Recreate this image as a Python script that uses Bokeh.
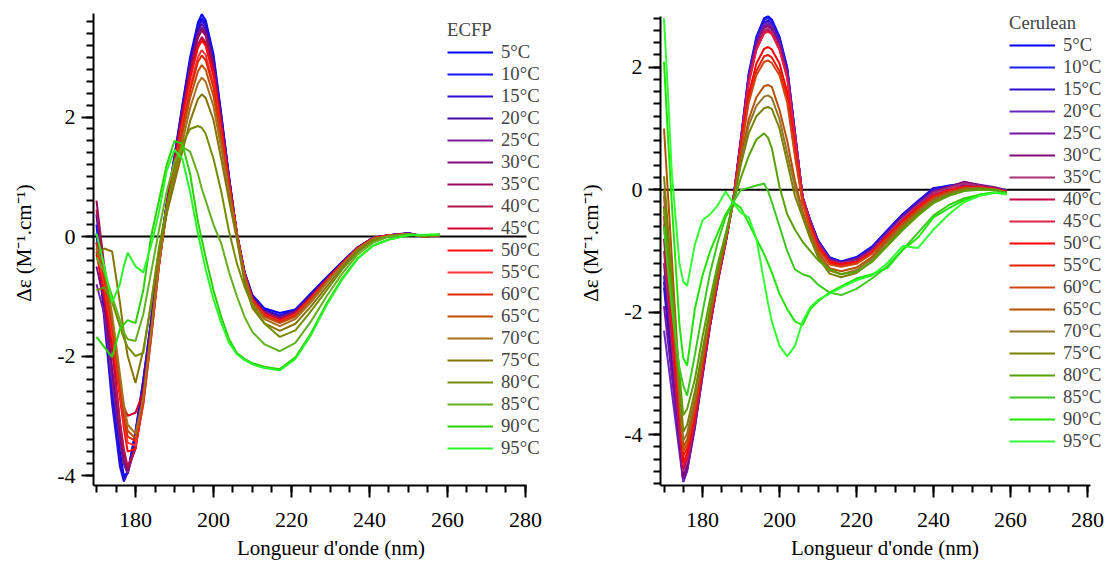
from bokeh.plotting import figure
from bokeh.models import Legend, LegendItem, SingleIntervalTicker, Range1d
from bokeh.layouts import row
from bokeh.embed import file_html
from bokeh.resources import INLINE

TEMPS = [5, 10, 15, 20, 25, 30, 35, 40, 45, 50, 55, 60, 65, 70, 75, 80, 85, 90, 95]
LABELS = [f"{t}°C" for t in TEMPS]
X_LABEL = "Longueur d'onde (nm)"
Y_LABEL = "Δε (M⁻¹.cm⁻¹)"

# ---------------- ECFP ----------------
WL_ECFP = [170, 172, 174, 176, 177, 178, 180, 182, 184, 186, 188, 190, 192, 194, 196, 197, 198,
           200, 202, 204, 206, 208, 210, 213, 217, 221, 225, 229, 233, 237, 241, 245, 250, 254, 258]

ECFP_5 = [0.37, -0.9, -2.4, -3.6, -4.0, -3.95, -3.3, -2.4, -1.4, -0.35,
          0.55, 1.35, 2.2, 3.0, 3.58, 3.72, 3.62, 3.05, 2.05, 1.0, 0.05,
          -0.6, -0.98, -1.2, -1.28, -1.22, -0.95, -0.68, -0.42, -0.18, -0.02, 0.02, 0.06, 0.0, 0.03]
ECFP_10 = [0.2, -1.2, -2.6, -3.75, -4.05, -3.95, -3.3, -2.45, -1.45, -0.35,
           0.54, 1.33, 2.16, 2.95, 3.52, 3.66, 3.56, 3.0, 2.02, 0.98, 0.05,
           -0.61, -1.0, -1.22, -1.32, -1.22, -0.97, -0.69, -0.43, -0.18, -0.02, 0.02, 0.05, 0.0, 0.03]
ECFP_15 = [0.05, -1.4, -2.8, -3.85, -4.1, -3.95, -3.25, -2.4, -1.4, -0.35,
           0.54, 1.31, 2.14, 2.92, 3.48, 3.62, 3.52, 2.97, 1.99, 0.97, 0.05,
           -0.61, -1.0, -1.23, -1.33, -1.23, -0.97, -0.7, -0.43, -0.18, -0.02, 0.02, 0.05, 0.0, 0.03]
ECFP_20 = [-0.1, -1.0, -2.3, -3.4, -3.8, -3.97, -3.45, -2.55, -1.5, -0.4,
           0.53, 1.29, 2.11, 2.87, 3.43, 3.56, 3.46, 2.92, 1.96, 0.96, 0.05,
           -0.62, -1.02, -1.25, -1.35, -1.25, -0.99, -0.71, -0.44, -0.19, -0.02, 0.02, 0.05, 0.0, 0.03]
ECFP_25 = [-0.8, -1.3, -2.4, -3.4, -3.8, -3.95, -3.5, -2.6, -1.55, -0.42,
           0.52, 1.27, 2.07, 2.82, 3.37, 3.5, 3.41, 2.87, 1.93, 0.94, 0.04,
           -0.63, -1.03, -1.26, -1.36, -1.26, -1.0, -0.72, -0.44, -0.19, -0.02, 0.02, 0.05, 0.0, 0.02]
ECFP_30 = [-0.5, -1.1, -2.2, -3.3, -3.75, -3.92, -3.5, -2.6, -1.55, -0.42,
           0.51, 1.26, 2.06, 2.81, 3.35, 3.48, 3.39, 2.85, 1.92, 0.94, 0.04,
           -0.63, -1.03, -1.27, -1.37, -1.27, -1.0, -0.72, -0.44, -0.19, -0.02, 0.02, 0.05, 0.0, 0.02]
ECFP_35 = [0.6, -0.5, -1.8, -3.1, -3.6, -3.9, -3.55, -2.65, -1.6, -0.45,
           0.51, 1.25, 2.04, 2.78, 3.32, 3.45, 3.36, 2.83, 1.9, 0.93, 0.04,
           -0.64, -1.04, -1.28, -1.38, -1.28, -1.01, -0.72, -0.45, -0.19, -0.02, 0.02, 0.05, 0.0, 0.02]
ECFP_40 = [0.45, -0.6, -1.9, -3.1, -3.55, -3.85, -3.55, -2.65, -1.6, -0.45,
           0.49, 1.21, 1.98, 2.69, 3.21, 3.34, 3.25, 2.74, 1.84, 0.9, 0.04,
           -0.64, -1.05, -1.28, -1.39, -1.28, -1.02, -0.73, -0.45, -0.19, -0.03, 0.02, 0.04, 0.0, 0.02]
ECFP_45 = [-0.25, -1.0, -1.9, -2.6, -2.85, -3.0, -2.95, -2.6, -1.6, -0.45,
           0.49, 1.2, 1.95, 2.66, 3.18, 3.3, 3.21, 2.71, 1.82, 0.89, 0.04,
           -0.65, -1.06, -1.29, -1.4, -1.29, -1.02, -0.73, -0.45, -0.19, -0.03, 0.02, 0.04, 0.0, 0.02]
ECFP_50 = [-0.3, -0.9, -1.7, -2.7, -3.2, -3.6, -3.55, -2.8, -1.7, -0.5,
           0.49, 1.19, 1.94, 2.65, 3.16, 3.28, 3.19, 2.69, 1.81, 0.88, 0.04,
           -0.65, -1.06, -1.3, -1.41, -1.3, -1.03, -0.74, -0.46, -0.2, -0.03, 0.02, 0.04, 0.0, 0.02]
ECFP_55 = [-0.2, -0.8, -1.6, -2.6, -3.1, -3.45, -3.5, -2.8, -1.7, -0.5,
           0.46, 1.13, 1.85, 2.52, 3.0, 3.12, 3.04, 2.56, 1.72, 0.84, 0.04,
           -0.66, -1.07, -1.31, -1.42, -1.31, -1.04, -0.74, -0.46, -0.2, -0.03, 0.02, 0.04, 0.0, 0.02]
ECFP_60 = [-0.1, -0.7, -1.5, -2.5, -3.0, -3.35, -3.42, -2.75, -1.65, -0.5,
           0.45, 1.1, 1.79, 2.44, 2.92, 3.03, 2.95, 2.49, 1.67, 0.82, 0.04,
           -0.66, -1.08, -1.32, -1.43, -1.32, -1.05, -0.75, -0.46, -0.2, -0.03, 0.01, 0.04, 0.0, 0.02]
ECFP_65 = [-0.15, -0.6, -1.4, -2.4, -2.9, -3.25, -3.38, -2.7, -1.62, -0.48,
           0.42, 1.04, 1.7, 2.32, 2.76, 2.87, 2.79, 2.35, 1.58, 0.77, 0.04,
           -0.67, -1.09, -1.34, -1.45, -1.34, -1.06, -0.76, -0.47, -0.2, -0.03, 0.01, 0.04, 0.0, 0.02]
ECFP_70 = [-0.2, -0.5, -1.3, -2.3, -2.8, -3.15, -3.3, -2.7, -1.6, -0.45,
           0.39, 0.97, 1.57, 2.15, 2.56, 2.66, 2.59, 2.18, 1.47, 0.72, 0.0,
           -0.7, -1.13, -1.38, -1.5, -1.38, -1.1, -0.78, -0.48, -0.21, -0.04, 0.01, 0.04, 0.0, 0.02]
ECFP_75 = [-0.3, -0.2, -0.25, -1.1, -1.6, -2.0, -2.45, -1.9, -1.15, -0.25,
           0.38, 0.9, 1.42, 1.93, 2.3, 2.38, 2.32, 1.95, 1.29, 0.6, -0.05,
           -0.78, -1.2, -1.45, -1.58, -1.46, -1.17, -0.84, -0.52, -0.24, -0.06, 0.0, 0.04, 0.0, 0.02]
ECFP_80 = [-0.9, -0.85, -1.1, -1.5, -1.7, -1.85, -2.0, -1.95, -1.1, -0.2,
           0.5, 1.1, 1.55, 1.8, 1.85, 1.82, 1.72, 1.3, 0.75, 0.08, -0.45,
           -0.85, -1.15, -1.45, -1.68, -1.57, -1.25, -0.9, -0.55, -0.26, -0.07, 0.01, 0.04, 0.01, 0.03]
ECFP_85 = [-0.35, -0.6, -1.0, -1.4, -1.6, -1.72, -1.75, -1.3, -0.6, 0.1,
           0.75, 1.25, 1.5, 1.42, 1.05, 0.8, 0.6, 0.2, -0.12, -0.6, -1.0,
           -1.35, -1.6, -1.8, -1.92, -1.78, -1.42, -1.0, -0.62, -0.3, -0.1, 0.0, 0.04, 0.02, 0.03]
ECFP_90 = [-1.68, -1.85, -2.02, -1.55, -1.47, -1.4, -1.45, -0.9, 0.0, 0.6,
           1.2, 1.6, 1.55, 1.05, 0.25, -0.05, -0.35, -0.9, -1.35, -1.72, -1.95,
           -2.05, -2.12, -2.18, -2.22, -2.02, -1.62, -1.12, -0.7, -0.36, -0.15, -0.05, 0.02, 0.02, 0.03]
ECFP_95 = [0.05, -0.5, -1.1, -0.8, -0.5, -0.27, -0.5, -0.6, -0.15, 0.4,
           1.1, 1.45, 1.3, 0.75, 0.05, -0.25, -0.55, -1.05, -1.45, -1.78, -1.97,
           -2.07, -2.14, -2.2, -2.24, -2.05, -1.65, -1.15, -0.72, -0.37, -0.15, -0.05, 0.02, 0.03, 0.04]

ECFP_SERIES = [ECFP_5, ECFP_10, ECFP_15, ECFP_20, ECFP_25, ECFP_30, ECFP_35, ECFP_40, ECFP_45,
               ECFP_50, ECFP_55, ECFP_60, ECFP_65, ECFP_70, ECFP_75, ECFP_80, ECFP_85, ECFP_90, ECFP_95]
ECFP_COLORS = ["#0000ff", "#1515f5", "#2a0fd5", "#4a0aa5", "#7a1e9e", "#7d0a7a", "#960a5a",
               "#b4144e", "#d2002d", "#ff0a0a", "#ff3535", "#dc2800", "#c04d00", "#a8701e",
               "#857500", "#748c00", "#64b020", "#2ad200", "#2af52a"]

# ---------------- Cerulean ----------------
WL_CER = [170, 171, 172, 174, 175, 176, 178, 180, 182, 184, 186, 188, 190, 192, 194, 196, 197, 198,
          200, 202, 204, 206, 208, 210, 213, 216, 220, 224, 228, 232, 236, 240, 244, 248, 252, 256, 259]

CER_5 = [-1.5, -2.14, -2.79, -4.08, -4.72, -4.5, -3.8, -2.95, -2.15, -1.45, -0.85, -0.15,
         0.85, 1.9, 2.5, 2.8, 2.83, 2.78, 2.5, 2.0, 0.95, -0.12,
         -0.5, -0.82, -1.1, -1.17, -1.1, -0.93, -0.66, -0.4, -0.18, 0.02, 0.07, 0.1, 0.06, 0.03, -0.02]
CER_10 = [-1.4, -2.07, -2.74, -4.08, -4.75, -4.55, -3.82, -2.97, -2.17, -1.47, -0.86, -0.15,
          0.84, 1.88, 2.47, 2.77, 2.8, 2.75, 2.47, 1.98, 0.94, -0.12,
          -0.5, -0.83, -1.11, -1.18, -1.12, -0.95, -0.68, -0.42, -0.2, 0.0, 0.06, 0.09, 0.05, 0.02, -0.02]
CER_15 = [-1.6, -2.23, -2.87, -4.14, -4.77, -4.58, -3.85, -3.0, -2.2, -1.48, -0.86, -0.16,
          0.83, 1.85, 2.44, 2.73, 2.76, 2.71, 2.44, 1.95, 0.93, -0.12,
          -0.51, -0.84, -1.12, -1.18, -1.11, -0.94, -0.67, -0.4, -0.19, 0.03, 0.05, 0.08, 0.05, 0.02, -0.03]
CER_20 = [-2.3, -2.79, -3.29, -4.28, -4.77, -4.6, -3.9, -3.05, -2.22, -1.5, -0.88, -0.17,
          0.82, 1.83, 2.41, 2.7, 2.73, 2.68, 2.41, 1.93, 0.92, -0.12,
          -0.52, -0.85, -1.13, -1.19, -1.13, -0.97, -0.7, -0.44, -0.22, -0.02, 0.04, 0.1, 0.07, 0.03, -0.02]
CER_25 = [-1.9, -2.47, -3.03, -4.16, -4.73, -4.56, -3.88, -3.03, -2.2, -1.49, -0.87, -0.16,
          0.81, 1.81, 2.39, 2.67, 2.7, 2.65, 2.39, 1.91, 0.91, -0.12,
          -0.52, -0.86, -1.14, -1.2, -1.14, -0.98, -0.71, -0.45, -0.23, -0.03, 0.05, 0.12, 0.08, 0.04, -0.01]
CER_30 = [-1.2, -1.9, -2.6, -4.0, -4.7, -4.52, -3.85, -3.02, -2.2, -1.48, -0.86, -0.17,
          0.8, 1.79, 2.36, 2.64, 2.67, 2.62, 2.36, 1.89, 0.9, -0.12,
          -0.53, -0.87, -1.15, -1.2, -1.15, -0.99, -0.72, -0.46, -0.24, -0.04, 0.04, 0.13, 0.07, 0.03, -0.02]
CER_35 = [-1.0, -1.72, -2.44, -3.88, -4.6, -4.43, -3.8, -2.98, -2.18, -1.47, -0.86, -0.17,
          0.79, 1.77, 2.32, 2.6, 2.63, 2.58, 2.32, 1.86, 0.88, -0.13,
          -0.54, -0.88, -1.16, -1.21, -1.16, -1.0, -0.73, -0.47, -0.25, -0.05, 0.03, 0.1, 0.06, 0.02, -0.03]
CER_40 = [-0.8, -1.55, -2.3, -3.8, -4.55, -4.38, -3.75, -2.95, -2.16, -1.46, -0.85, -0.18,
          0.78, 1.75, 2.3, 2.57, 2.6, 2.55, 2.3, 1.84, 0.87, -0.13,
          -0.55, -0.89, -1.17, -1.22, -1.17, -1.01, -0.75, -0.5, -0.27, -0.08, 0.0, 0.06, 0.05, 0.02, -0.03]
CER_45 = [-0.57, -1.36, -2.14, -3.71, -4.5, -4.34, -3.72, -2.92, -2.14, -1.45, -0.85, -0.18,
          0.78, 1.73, 2.28, 2.55, 2.58, 2.54, 2.28, 1.82, 0.86, -0.13,
          -0.56, -0.9, -1.17, -1.22, -1.18, -1.02, -0.76, -0.5, -0.28, -0.1, 0.0, 0.05, 0.04, 0.01, -0.04]
CER_50 = [-0.43, -1.23, -2.04, -3.65, -4.45, -4.3, -3.7, -2.9, -2.12, -1.44, -0.84, -0.18,
          0.7, 1.56, 2.06, 2.3, 2.33, 2.29, 2.06, 1.6, 0.65, -0.2,
          -0.6, -0.93, -1.18, -1.22, -1.18, -1.03, -0.77, -0.52, -0.3, -0.12, -0.02, 0.04, 0.03, 0.01, -0.04]
CER_55 = [-0.27, -1.09, -1.9, -3.53, -4.35, -4.22, -3.65, -2.86, -2.1, -1.42, -0.83, -0.18,
          0.66, 1.48, 1.94, 2.18, 2.2, 2.16, 1.94, 1.5, 0.6, -0.2,
          -0.62, -0.95, -1.2, -1.24, -1.2, -1.04, -0.78, -0.53, -0.31, -0.12, -0.02, 0.04, 0.03, 0.0, -0.04]
CER_60 = [-0.1, -0.93, -1.77, -3.44, -4.27, -4.15, -3.58, -2.82, -2.07, -1.4, -0.82, -0.19,
          0.63, 1.42, 1.87, 2.09, 2.11, 2.07, 1.87, 1.42, 0.55, -0.22,
          -0.64, -0.97, -1.22, -1.26, -1.21, -1.05, -0.8, -0.55, -0.33, -0.14, -0.04, 0.02, 0.03, 0.0, -0.05]
CER_65 = [1.0, -0.04, -1.08, -3.16, -4.2, -4.08, -3.5, -2.78, -2.05, -1.38, -0.81, -0.19,
          0.52, 1.15, 1.51, 1.69, 1.71, 1.68, 1.3, 0.8, 0.15, -0.35,
          -0.72, -1.02, -1.28, -1.33, -1.27, -1.1, -0.83, -0.57, -0.35, -0.16, -0.05, 0.02, 0.03, 0.01, -0.04]
CER_70 = [0.0, -0.82, -1.64, -3.28, -4.1, -3.98, -3.42, -2.72, -2.0, -1.35, -0.8, -0.2,
          0.47, 1.05, 1.37, 1.52, 1.54, 1.5, 1.15, 0.6, 0.05, -0.4,
          -0.76, -1.06, -1.32, -1.38, -1.31, -1.13, -0.86, -0.6, -0.37, -0.17, -0.06, 0.01, 0.02, 0.0, -0.05]
CER_75 = [0.22, -0.61, -1.45, -3.12, -3.95, -3.84, -3.3, -2.62, -1.93, -1.3, -0.77, -0.2,
          0.42, 0.92, 1.2, 1.33, 1.35, 1.32, 1.0, 0.45, -0.1, -0.45,
          -0.8, -1.1, -1.37, -1.43, -1.36, -1.17, -0.9, -0.63, -0.4, -0.2, -0.08, 0.0, 0.02, 0.0, -0.05]
CER_80 = [-0.3, -0.98, -1.65, -3.0, -3.68, -3.58, -3.1, -2.4, -1.78, -1.2, -0.72, -0.2,
          0.2, 0.55, 0.82, 0.92, 0.85, 0.68, 0.05, -0.4, -0.65, -0.85,
          -1.0, -1.15, -1.3, -1.38, -1.34, -1.18, -0.92, -0.66, -0.42, -0.22, -0.1, -0.02, 0.0, -0.01, -0.05]
CER_85 = [-0.6, -1.3, -1.9, -2.9, -3.2, -3.36, -2.7, -2.0, -1.35, -0.85, -0.45, -0.2,
          0.0, 0.03, 0.07, 0.1, -0.02, -0.2, -0.6, -1.0, -1.3, -1.38,
          -1.42, -1.55, -1.68, -1.72, -1.62, -1.45, -1.25, -0.98, -0.7, -0.42, -0.25, -0.14, -0.08, -0.04, -0.06]
CER_90 = [2.09, 0.9, -0.2, -2.2, -2.75, -2.87, -1.95, -1.4, -1.0, -0.7, -0.4, -0.2,
          -0.3, -0.55, -0.8, -1.05, -1.2, -1.35, -1.7, -1.95, -2.15, -2.21,
          -1.95, -1.82, -1.68, -1.58, -1.45, -1.38, -1.28, -0.98, -0.78, -0.45, -0.3, -0.17, -0.08, -0.05, -0.06]
CER_95 = [2.8, 1.6, 0.3, -1.2, -1.5, -1.57, -0.9, -0.5, -0.4, -0.25, -0.03, -0.22,
          -0.38, -0.45, -0.8, -1.5, -1.85, -2.15, -2.55, -2.72, -2.55, -2.15,
          -1.92, -1.8, -1.7, -1.6, -1.48, -1.4, -1.2, -0.92, -0.95, -0.65, -0.4, -0.2, -0.1, -0.05, -0.08]

CER_SERIES = [CER_5, CER_10, CER_15, CER_20, CER_25, CER_30, CER_35, CER_40, CER_45,
              CER_50, CER_55, CER_60, CER_65, CER_70, CER_75, CER_80, CER_85, CER_90, CER_95]
CER_COLORS = ["#0000ff", "#1e1eff", "#2d0fd2", "#6428c0", "#7814a5", "#820a78", "#aa3278",
              "#c80046", "#e61e46", "#ff0000", "#e61e00", "#d24614", "#b45000", "#967328",
              "#788200", "#5aa000", "#3cc81e", "#1ee600", "#32ff32"]

FONT = "Liberation Serif"
Y_OVERRIDES = {-4: "-4", -2: "-2", 0: "0", 2: "2"}
FIG_H = 562


def build(name, wl, series, colors, x_bounds, x_end, y_bounds, y_end, width, b_left,
          leg_xy, leg_font):
    p = figure(width=width, height=FIG_H, x_range=Range1d(x_bounds[0], x_end),
               y_range=Range1d(y_bounds[0], y_end), output_backend="svg", toolbar_location=None,
               min_border_left=b_left, min_border_right=0,
               min_border_top=0, min_border_bottom=75)
    p.outline_line_color = None
    p.background_fill_color = "white"
    p.border_fill_color = "white"
    p.xgrid.visible = False
    p.ygrid.visible = False

    # zero reference line, spanning the axis extent
    p.segment(x0=[x_bounds[0]], y0=[0], x1=[x_bounds[1]], y1=[0],
              line_color="black", line_width=2)

    items = []
    for lab, ys, c in zip(LABELS, series, colors):
        r = p.line(wl, ys, line_color=c, line_width=2)
        items.append(LegendItem(label=lab, renderers=[r]))

    p.xaxis.ticker = SingleIntervalTicker(interval=20, num_minor_ticks=4)
    p.xaxis.bounds = x_bounds
    p.yaxis.ticker = SingleIntervalTicker(interval=2, num_minor_ticks=10)
    p.yaxis.bounds = y_bounds
    p.yaxis.major_label_overrides = Y_OVERRIDES
    for ax in (p.xaxis[0], p.yaxis[0]):
        ax.axis_line_width = 2
        ax.axis_line_color = "black"
        ax.major_tick_line_width = 2
        ax.minor_tick_line_width = 2
        ax.major_tick_out = 12
        ax.major_tick_in = 0
        ax.minor_tick_out = 7
        ax.minor_tick_in = 0
        ax.major_label_text_font = FONT
        ax.major_label_text_font_size = "22px"
        ax.major_label_text_color = "black"
        ax.axis_label_text_font = FONT
        ax.axis_label_text_font_size = "21px"
        ax.axis_label_text_font_style = "normal"
        ax.axis_label_text_color = "black"
    p.xaxis.axis_label = X_LABEL
    p.yaxis.axis_label = Y_LABEL
    p.xaxis.major_label_standoff = 15
    p.xaxis.axis_label_standoff = 6
    p.yaxis.major_label_standoff = 6
    p.yaxis.axis_label_standoff = 18

    leg = Legend(items=items, location=leg_xy, title=name)
    leg.title_text_font = FONT
    leg.title_text_font_size = leg_font
    leg.title_text_font_style = "normal"
    leg.title_standoff = 0
    leg.label_text_font = FONT
    leg.label_text_font_size = leg_font
    leg.glyph_width = 46
    leg.glyph_height = 20
    leg.label_height = 20
    leg.label_standoff = 8
    leg.spacing = 0
    leg.padding = 0
    leg.margin = 0
    leg.border_line_color = None
    leg.background_fill_alpha = 0
    p.add_layout(leg)
    return p


p1 = build("ECFP", WL_ECFP, ECFP_SERIES, ECFP_COLORS, (169.23, 280.26), 291.03,
           (-4.167, 3.733), 3.95, 568, 93, (354, 26), "18.7px")
p2 = build("Cerulean", WL_CER, CER_SERIES, CER_COLORS, (169.09, 280.78), 285.71,
           (-4.829, 2.829), 3.089, 541, 92, (349, 33), "18.6px")

layout = row(p1, p2)
open("out.html", "w").write(file_html(layout, INLINE))
